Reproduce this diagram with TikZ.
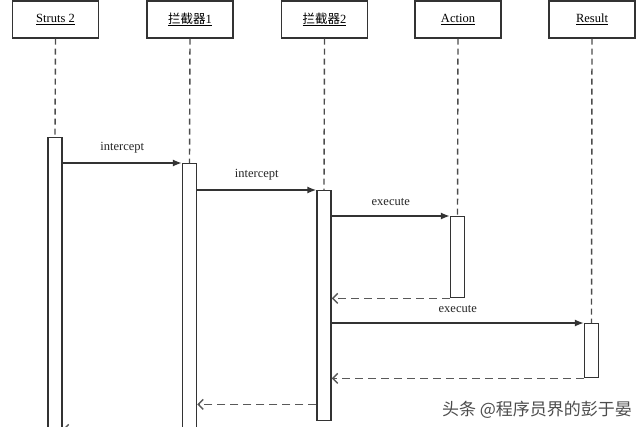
\documentclass[tikz,border=0pt]{standalone}
\usepackage{fontspec}
\setmainfont{Liberation Serif}
\newfontfamily\cjk{Noto Sans CJK SC}
\usetikzlibrary{arrows.meta,positioning}

\tikzset{
  head/.style={draw=black!80, line width=1.4pt, minimum width=86pt, minimum height=37pt,
    inner sep=0pt, font=\fontsize{12.5}{14}\selectfont},
  bar/.style={draw=black!80, fill=white, line width=1.4pt, minimum width=14pt, inner sep=0pt, anchor=north},
  life/.style={draw=black!70, line width=1.4pt, dash pattern=on 6pt off 4pt},
  call/.style={draw=black!80, line width=1.4pt, -{Latex[length=9pt,width=7pt]}},
  back/.style={draw=black!65, line width=1.4pt, dash pattern=on 8pt off 5pt,
    -{Straight Barb[length=5pt,width=10pt]}},
  msglbl/.style={font=\fontsize{12.5}{14}\selectfont, text=black!85, above=6pt}
}

\begin{document}
\begin{tikzpicture}[x=1pt,y=-1pt]
  \useasboundingbox (0,0) rectangle (640,426);

  %%%%% heads %%%%%
  \node[head] (struts) at (55.5,19.5) {\underline{Struts 2}};
  \node[head] (icpt1) at (190,19.5) {\underline{{\cjk 拦截器}1}};
  \node[head] (icpt2) at (324.5,19.5) {\underline{{\cjk 拦截器}2}};
  \node[head] (action) at (458,19.5) {\underline{Action}};
  \node[head] (result) at (592,19.5) {\underline{Result}};

  %%%%% activation bars %%%%%
  \node[bar, minimum height=303pt] (strutsbar) at (55,137) {};
  \node[bar, minimum height=277pt] (icpt1bar) at (189.5,163) {};
  \node[bar, minimum height=230pt] (icpt2bar) at (324,190) {};
  \node[bar, minimum height=81pt] (actionbar) at (457.5,216) {};
  \node[bar, minimum height=54pt] (resultbar) at (591.5,323) {};

  %%%%% lifelines %%%%%
  \draw[life] (struts.south) -- (strutsbar.north);
  \draw[life] (icpt1.south) -- (icpt1bar.north);
  \draw[life] (icpt2.south) -- (icpt2bar.north);
  \draw[life] (action.south) -- (actionbar.north);
  \draw[life] (result.south) -- (resultbar.north);

  %%%%% messages %%%%%
  \draw[call] (strutsbar.east |- icpt1bar.north) -- node[msglbl] {intercept} (icpt1bar.north west);
  \draw[call] (icpt1bar.east |- icpt2bar.north) -- node[msglbl] {intercept} (icpt2bar.north west);
  \draw[call] (icpt2bar.east |- actionbar.north) -- node[msglbl] {execute} (actionbar.north west);
  \draw[back] (actionbar.south west) -- (icpt2bar.east |- actionbar.south);
  \draw[call] (icpt2bar.east |- resultbar.north) -- node[msglbl] {execute} (resultbar.north west);
  \draw[back] (resultbar.south west) -- (icpt2bar.east |- resultbar.south);

  \coordinate (ret3) at ([yshift=17pt]icpt2bar.south west);
  \draw[back] (ret3) -- (icpt1bar.east |- ret3);
  \coordinate (ret4) at ([yshift=12pt]icpt1bar.south west);
  \draw[back] (ret4) -- (strutsbar.east |- ret4);

  %%%%% watermark %%%%%
  \node[font=\cjk\fontsize{17}{20}\selectfont, text=black!70] (wmark) at (537,410) {头条 @程序员界的彭于晏};
\end{tikzpicture}
\end{document}
